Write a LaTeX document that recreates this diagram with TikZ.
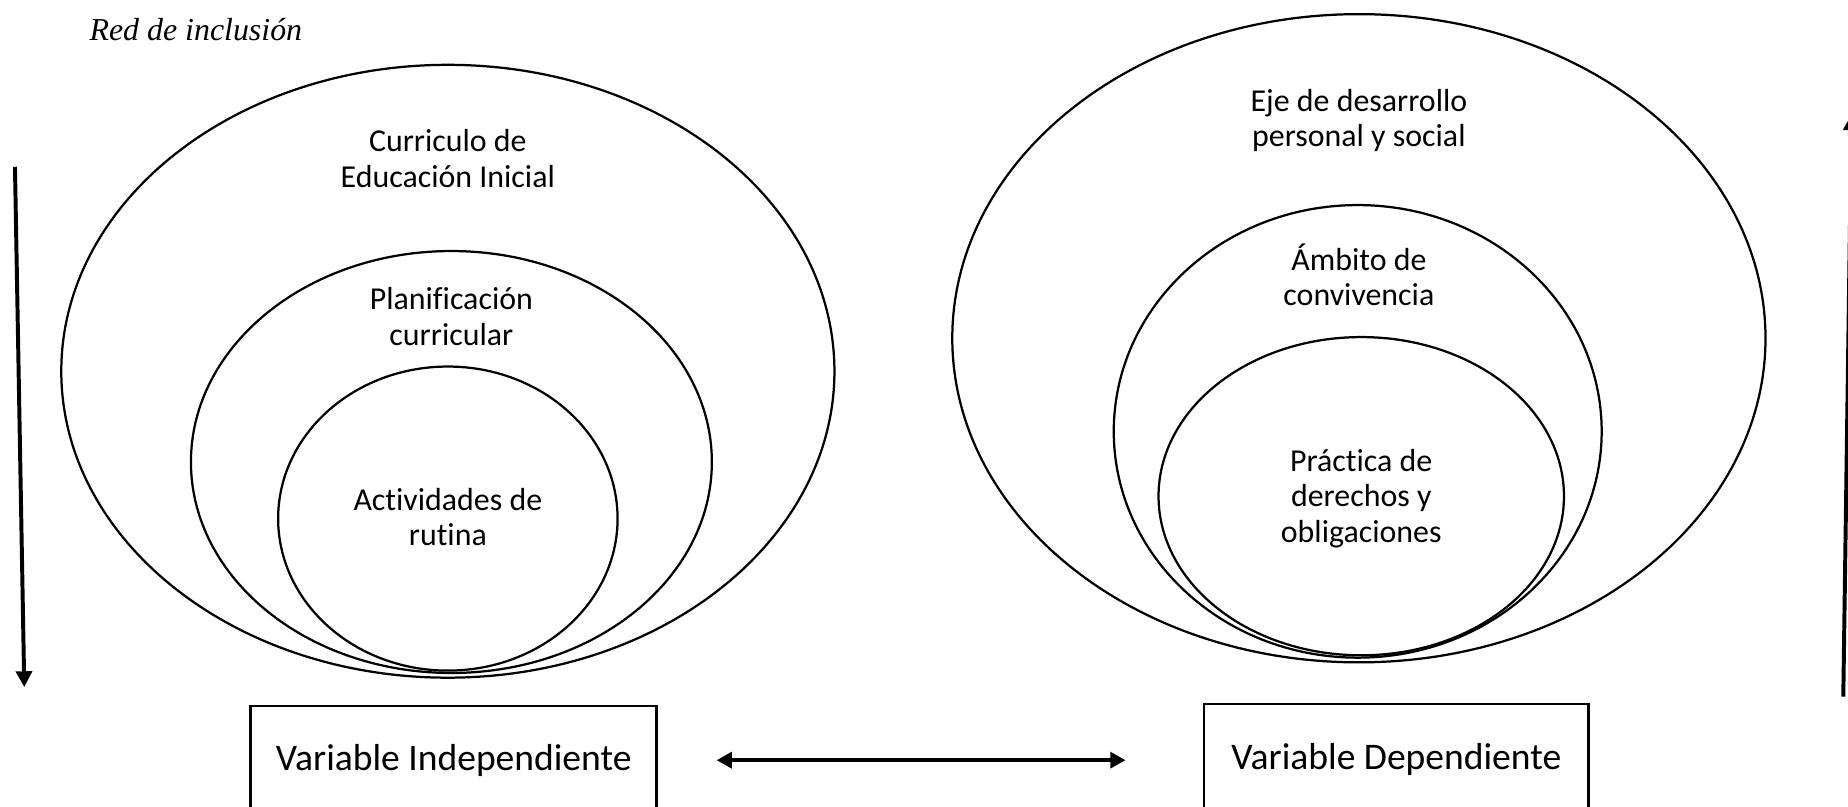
\documentclass[tikz,border=0pt]{standalone}
\usepackage{fontspec}
\setmainfont{Carlito}[Ligatures=NoCommon]
\newfontfamily\timesfont{Liberation Serif}
\usetikzlibrary{arrows.meta}
\begin{document}
\begin{tikzpicture}[x=0.447pt,y=-0.447pt,
  ring/.style={draw,line width=0.85pt},
  lbl/.style={align=center,inner sep=0pt,font=\fontsize{12.1}{13.4}\selectfont},
  vbox/.style={draw,line width=1pt,inner sep=0pt,font=\fontsize{14.25}{17}\selectfont},
  arr/.style={line width=1.5pt,-{Triangle[length=6pt,width=6pt]}},
  dblarr/.style={line width=1.5pt,{Triangle[length=5.8pt,width=6pt]}-{Triangle[length=5.8pt,width=6pt]}},
]
\useasboundingbox (0,0) rectangle (1568,684);
\clip (0,0) rectangle (1568,684);

% title
\node[font=\fontsize{12.1}{14}\selectfont\timesfont\itshape, anchor=base west, inner sep=0pt] (title) at (75.5,34.5) {Red de inclusión};

% left ellipses
\draw[ring] (380,315) ellipse [x radius=328, y radius=260];
\draw[ring] (383,392) ellipse [x radius=221, y radius=179];
\draw[ring] (380,440) ellipse [x radius=144, y radius=129];

% right ellipses
\draw[ring] (1153,287) ellipse [x radius=345, y radius=275];
\draw[ring] (1152,366) ellipse [x radius=207, y radius=192];
\draw[ring] (1155,421) ellipse [x radius=172, y radius=135];

% labels
\node[lbl] (cur) at (380,134.5) {Curriculo de\\Educación Inicial};
\node[lbl] (pla) at (383,268.5) {Planificación\\curricular};
\node[lbl] (act) at (380,438.5) {Actividades de\\rutina};
\node[lbl] (eje) at (1153,102.5) {Eje de desarrollo\\personal y social};
\node[lbl] (amb) at (1153,233) {Ámbito de\\convivencia};
\node[lbl] (pra) at (1155,423) {Práctica de\\derechos y\\obligaciones};

% boxes
\node[vbox, minimum width=154pt, minimum height=41.6pt] (vi) at (385,645.5) {Variable Independiente};
\node[vbox, minimum width=145.9pt, minimum height=42.2pt] (vd) at (1184.8,644.5) {Variable Dependiente};

% double arrow
\coordinate (la) at (608,645);
\coordinate (ra) at (955,645);
\draw[dblarr] (la) -- (ra);

% side arrows
\coordinate (lt) at (12.7,141.5);
\coordinate (lb) at (20.6,583);
\draw[arr] (lt) -- (lb);
\coordinate (rb) at (1564,591);
\coordinate (rt) at (1571,97);
\draw[arr] (rb) -- (rt);
\end{tikzpicture}
\end{document}
